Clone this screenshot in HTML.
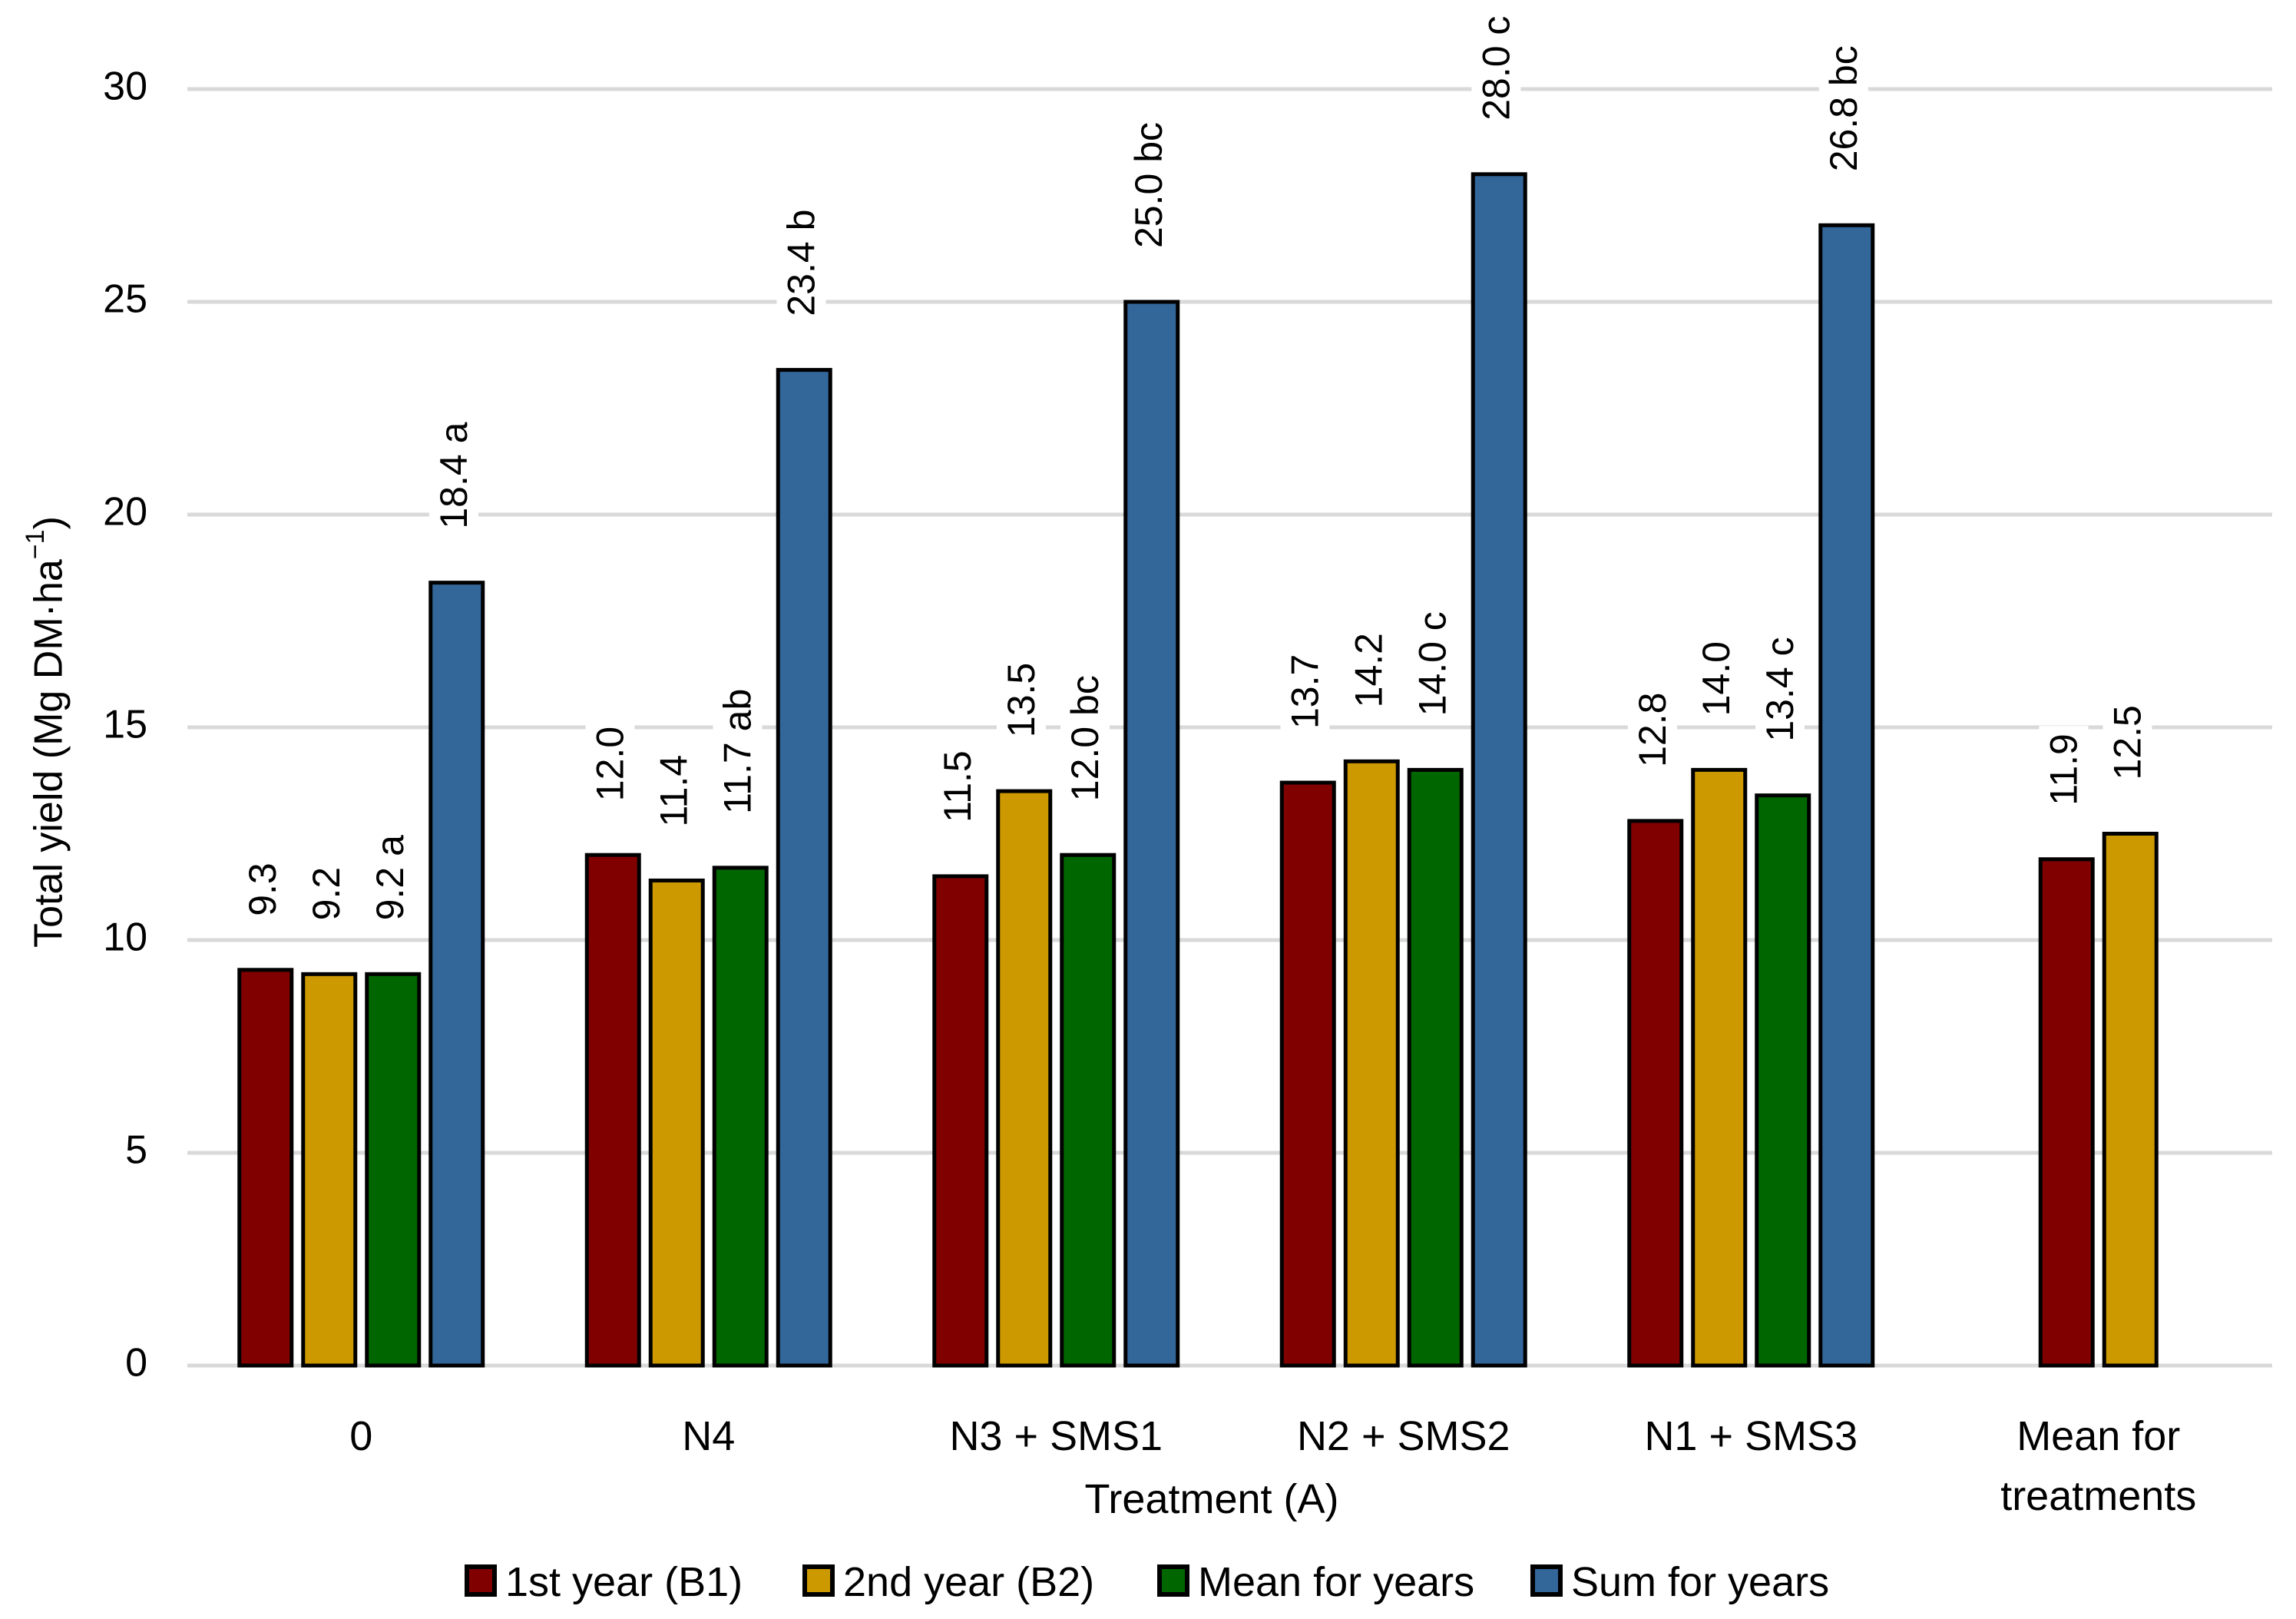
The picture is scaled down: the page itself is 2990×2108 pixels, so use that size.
<!DOCTYPE html>
<html><head><meta charset="utf-8"><style>
html,body{margin:0;padding:0;background:#fff}
svg{display:block;font-family:"Liberation Sans",sans-serif}
</style></head><body>
<svg id="chart" width="2990" height="2108" viewBox="0 0 2990 2108" xmlns="http://www.w3.org/2000/svg">
<g id="grid"></g>
<g id="yticks"></g>
<g id="bars"></g>
<g id="labels"></g>
<g id="xcats"></g>
<text x="67" y="953" transform="rotate(-90 67 953)" text-anchor="middle" dominant-baseline="middle" font-size="52" fill="#000">Total yield (Mg DM·ha<tspan baseline-shift="super" font-size="34">−1</tspan>)</text>
<text x="1578" y="1970" text-anchor="middle" font-size="54" fill="#000">Treatment (A)</text>
<g id="legend"></g>
</svg>
<script>
const categories = ["0", "N4", "N3 + SMS1", "N2 + SMS2", "N1 + SMS3", "Mean for treatments"];
const seriesNames = ["1st year (B1)", "2nd year (B2)", "Mean for years", "Sum for years"];
const year1 = [9.3, 12.0, 11.5, 13.7, 12.8, 11.9];
const year2 = [9.2, 11.4, 13.5, 14.2, 14.0, 12.5];
const meanYears = [9.2, 11.7, 12.0, 14.0, 13.4, null];
const sumYears = [18.4, 23.4, 25.0, 28.0, 26.8, null];
const year1Labels = ["9.3", "12.0", "11.5", "13.7", "12.8", "11.9"];
const year2Labels = ["9.2", "11.4", "13.5", "14.2", "14.0", "12.5"];
const meanLabels = ["9.2 a", "11.7 ab", "12.0 bc", "14.0 c", "13.4 c", ""];
const sumLabels = ["18.4 a", "23.4 b", "25.0 bc", "28.0 c", "26.8 bc", ""];
const yTicks = [0, 5, 10, 15, 20, 25, 30];

const NS = "http://www.w3.org/2000/svg";
const colors = ["#800000", "#CC9900", "#006600", "#336699"];
const X0 = 244, X1 = 2959, Y0 = 1778, YTOP = 116, YMAX = 30;
const groupW = (X1 - X0) / categories.length;
const pitch = 83, barW = 68;
function yScale(v){ return Y0 - (v / YMAX) * (Y0 - YTOP); }
function groupCenter(i){ return X0 + groupW * (i + 0.5); }
function mk(tag, attrs, parent){ const e = document.createElementNS(NS, tag); for (const k in attrs) e.setAttribute(k, attrs[k]); parent.appendChild(e); return e; }

const grid = document.getElementById("grid"), yt = document.getElementById("yticks");
yTicks.forEach(t => {
  const l = mk("line", {x1: X0, x2: X1, y1: yScale(t), y2: yScale(t), stroke: "#d9d9d9", "stroke-width": 5}, grid);
  
  
  const tx = mk("text", {x: 192, y: yScale(t), "text-anchor": "end", "dominant-baseline": "middle", "font-size": 52}, yt);
  tx.textContent = t;
  
  
});

const all = [year1, year2, meanYears, sumYears];
const allLabels = [year1Labels, year2Labels, meanLabels, sumLabels];
const bars = document.getElementById("bars"), labs = document.getElementById("labels");
categories.forEach((c, i) => {
  const present = all.map((s, k) => k).filter(k => all[k][i] !== null);
  const n = present.length;
  present.forEach((k, j) => {
    const v = all[k][i];
    const cx = groupCenter(i) + (j - (n - 1) / 2) * pitch;
    const top = yScale(v);
    const r = mk("rect", {x: cx - barW / 2, y: top, width: barW, height: Y0 - top, fill: colors[k], stroke: "#000", "stroke-width": 5}, bars);
    
    
    const txt = allLabels[k][i];
    if (txt) {
      const base = top - 70;
      const t = mk("text", {x: cx, y: base, transform: "rotate(-90 " + cx + " " + base + ")", "dominant-baseline": "middle", "font-size": 50}, labs);
      t.textContent = txt;
      
      
      const bb = t.getBBox();
      const bg = mk("rect", {x: bb.x - 10, y: bb.y - 4, width: bb.width + 20, height: bb.height + 8, fill: "#fff", transform: "rotate(-90 " + cx + " " + base + ")"}, labs);
      
      
      labs.insertBefore(bg, t);
    }
  });
});

const xc = document.getElementById("xcats");
categories.forEach((c, i) => {
  const t = mk("text", {x: groupCenter(i), y: 1888, "text-anchor": "middle", "font-size": 54}, xc);
  
  
  if (c === "Mean for treatments") {
    mk("tspan", {x: groupCenter(i), dy: 0}, t).textContent = "Mean for";
    mk("tspan", {x: groupCenter(i), dy: 78}, t).textContent = "treatments";
  } else t.textContent = c;
});

const lg = document.getElementById("legend");
const lx = [608, 1048, 1510, 1996];
seriesNames.forEach((s, k) => {
  const r = mk("rect", {x: lx[k], y: 2040, width: 36, height: 36, fill: colors[k], stroke: "#000", "stroke-width": 6}, lg);
  
  
  const t = mk("text", {x: lx[k] + 50, y: 2078, "font-size": 54}, lg);
  t.textContent = s;
  
  
});
</script>
</body></html>
